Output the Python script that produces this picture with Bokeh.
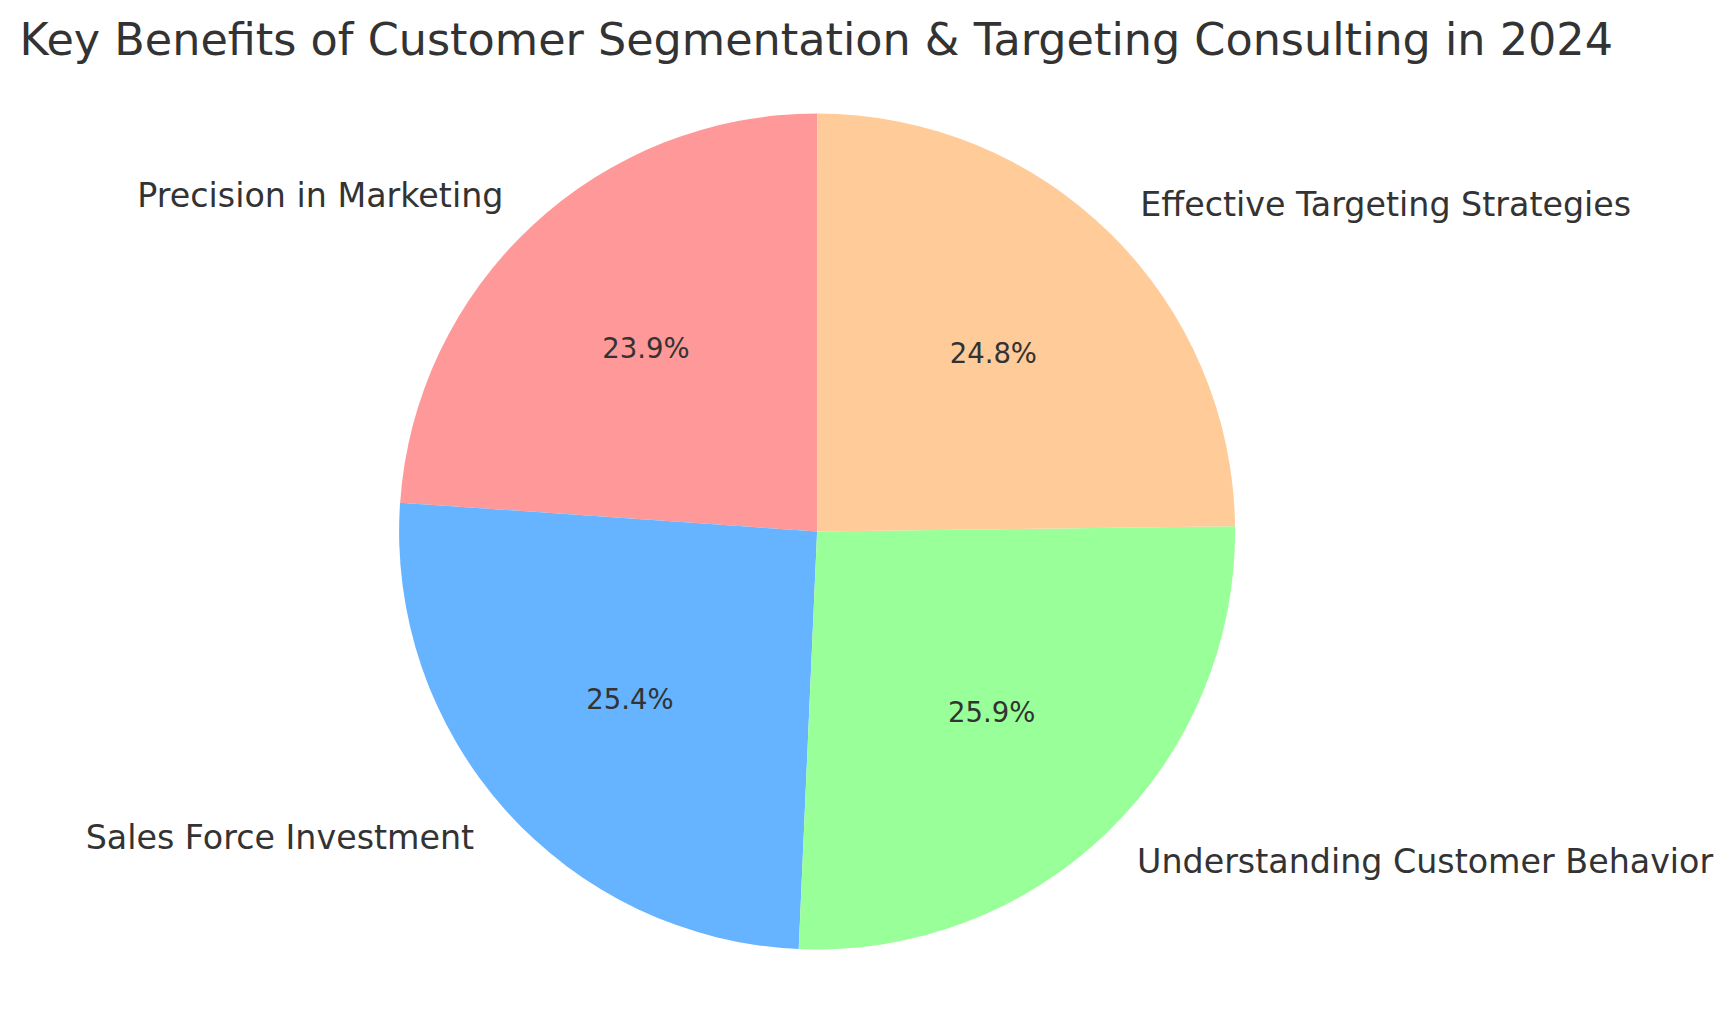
import numpy as np
from bokeh.plotting import figure
from bokeh.models import ColumnDataSource, Range1d
from bokeh.core.properties import value
from bokeh.embed import file_html
from bokeh.resources import INLINE

# ---- data ----
categories = ["Precision in Marketing", "Sales Force Investment",
              "Understanding Customer Behavior", "Effective Targeting Strategies"]
shares = [23.9, 25.4, 25.9, 24.8]
colors = ["#ff9999", "#66b3ff", "#99ff99", "#ffcc99"]
title_text = "Key Benefits of Customer Segmentation & Targeting Consulting in 2024"

vals = np.array(shares, dtype=float)
frac = vals / vals.sum()
start = np.pi / 2 + 2 * np.pi * np.concatenate([[0.0], np.cumsum(frac)[:-1]])
end = start + 2 * np.pi * frac
mid = (start + end) / 2

# ---- geometry (pixels) ----
R = 418.0
W = 1719
F = 920
M = 6          # top margin of figure
T = 54         # estimated title panel height
cx = 816.6
cy_top = 530 - 8 - M - T

p = figure(width=W, frame_width=W, frame_height=F,
           x_range=Range1d(-cx / R, (W - cx) / R),
           y_range=Range1d(-(F - cy_top) / R, cy_top / R),
           output_backend="svg", toolbar_location=None,
           title=title_text, min_border=0, margin=(M, 0, 0, 0))
p.axis.visible = False
p.grid.visible = False
p.outline_line_color = None
p.background_fill_color = "white"
p.border_fill_color = "white"

p.title.text_font = "DejaVu Sans"
p.title.text_font_size = "44.5px"
p.title.text_font_style = "normal"
p.title.text_color = "#333333"
p.title.align = "left"
p.title.offset = 19

src = ColumnDataSource(dict(cat=categories, start=start, end=end, color=colors,
                            pct=["%.1f%%" % (f * 100) for f in frac]))
p.wedge(x=0, y=0, radius=1.0, start_angle="start", end_angle="end",
        direction="anticlock", fill_color="color", line_color=None, source=src)

lx = 1.1 * np.cos(mid)
ly = 1.1 * np.sin(mid)
lab = ColumnDataSource(dict(x=lx, y=ly, text=categories,
                            align=["left" if c > 0 else "right" for c in np.cos(mid)]))
p.text(x="x", y="y", text="text", text_align="align", text_baseline="middle",
       text_font=value("DejaVu Sans"), text_font_size="33.3px", text_color="#333333",
       source=lab)

px = 0.6 * np.cos(mid)
py = 0.6 * np.sin(mid)
pl = ColumnDataSource(dict(x=px, y=py, text=src.data["pct"]))
p.text(x="x", y="y", text="text", text_align="center", text_baseline="middle",
       text_font=value("DejaVu Sans"), text_font_size="27.5px", text_color="#333333",
       source=pl)

open("out.html", "w").write(file_html(p, INLINE))
